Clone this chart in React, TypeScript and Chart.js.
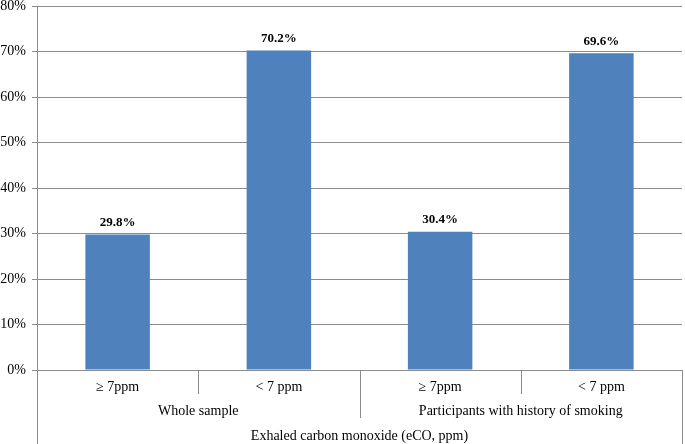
import React, { useEffect, useRef } from 'react';
import { Chart, registerables } from 'chart.js';

Chart.register(...registerables);

const categories = ['≥ 7ppm', '< 7 ppm', '≥ 7ppm', '< 7 ppm'];
const groups = ['Whole sample', 'Participants with history of smoking'];
const groupSizes = [2, 2];
const axisTitle = 'Exhaled carbon monoxide (eCO, ppm)';
const values = [29.8, 70.2, 30.4, 69.6];
const yMin = 0;
const yMax = 80;
const yStep = 10;

const FONT = '"Liberation Serif", "Times New Roman", serif';
const LINE = '#8c8c8c';

const multiLevelAxis = {
  id: 'multiLevelAxis',
  afterDraw(chart: any) {
    const { ctx, chartArea, scales } = chart;
    const x = scales.x;
    const n = categories.length;
    const w = (chartArea.right - chartArea.left) / n;
    const bottom = chart.height;
    const y0 = chartArea.bottom;
    ctx.save();
    ctx.strokeStyle = LINE;
    ctx.lineWidth = 1;
    const vline = (px: number, yEnd: number) => {
      const xx = Math.round(px) + 0.5;
      ctx.beginPath();
      ctx.moveTo(xx, y0);
      ctx.lineTo(xx, yEnd);
      ctx.stroke();
    };
    vline(chartArea.left, bottom);
    vline(chartArea.right, bottom);
    let idx = 0;
    const groupStarts: number[] = [];
    groupSizes.forEach((s, g) => {
      groupStarts.push(idx);
      idx += s;
      if (g < groupSizes.length - 1) vline(chartArea.left + idx * w, y0 + 48);
    });
    for (let i = 1; i < n; i++) {
      if (!groupStarts.includes(i)) vline(chartArea.left + i * w, y0 + 24);
    }
    ctx.fillStyle = '#000';
    ctx.textAlign = 'center';
    ctx.textBaseline = 'middle';
    ctx.font = `14px ${FONT}`;
    categories.forEach((c, i) => {
      ctx.fillText(c, x.getPixelForValue(i), y0 + 17);
    });
    groupStarts.forEach((s, g) => {
      const cx = chartArea.left + (s + groupSizes[g] / 2) * w;
      ctx.fillText(groups[g], cx, y0 + 41);
    });
    ctx.fillText(axisTitle, (chartArea.left + chartArea.right) / 2, y0 + 66);
    ctx.restore();
  },
};

const barLabels = {
  id: 'barLabels',
  afterDatasetsDraw(chart: any) {
    const { ctx } = chart;
    const meta = chart.getDatasetMeta(0);
    ctx.save();
    ctx.fillStyle = '#000';
    ctx.font = `bold 13px ${FONT}`;
    ctx.textAlign = 'center';
    ctx.textBaseline = 'middle';
    meta.data.forEach((bar: any, i: number) => {
      ctx.fillText(values[i].toFixed(1) + '%', bar.x, bar.y - 12);
    });
    ctx.restore();
  },
};

export default function App() {
  const ref = useRef<HTMLCanvasElement>(null);
  useEffect(() => {
    document.body.style.margin = '0';
    const chart = new Chart(ref.current!, {
      type: 'bar',
      data: {
        labels: categories,
        datasets: [
          {
            data: values,
            backgroundColor: '#4F81BD',
            categoryPercentage: 1,
            barPercentage: 0.4,
          },
        ],
      },
      options: {
        responsive: false,
        animation: false,
        layout: { padding: { top: 0, right: 3, left: 0, bottom: 0 } },
        plugins: { legend: { display: false }, tooltip: { enabled: false } },
        scales: {
          x: {
            ticks: { display: false },
            grid: { display: false },
            border: { display: false },
            afterFit: (s: any) => {
              s.height = 74;
            },
          },
          y: {
            min: yMin,
            max: yMax,
            ticks: {
              stepSize: yStep,
              callback: (v: any) => v + '%',
              color: '#000',
              font: { family: FONT, size: 14 },
              padding: 6,
            },
            grid: { color: LINE, tickLength: 5 },
            border: { color: LINE },
            afterFit: (s: any) => {
              s.width = 37;
              s.paddingTop = 6;
              s.paddingBottom = 0;
            },
          },
        },
      },
      plugins: [multiLevelAxis, barLabels],
    });
    return () => chart.destroy();
  }, []);
  return (
    <div style={{ width: 685, height: 444 }}>
      <canvas ref={ref} width={685} height={444} />
    </div>
  );
}
